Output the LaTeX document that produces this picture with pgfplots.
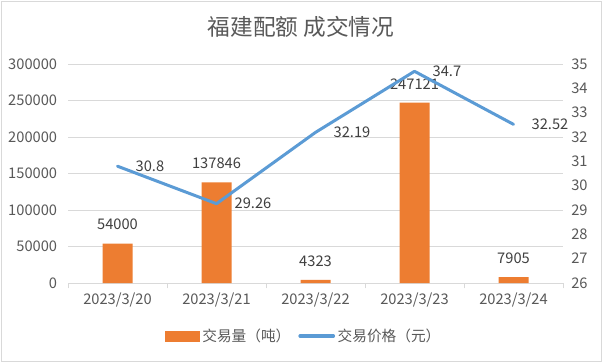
\documentclass[border=0pt]{standalone}
\usepackage{pgfplots}
\pgfplotsset{compat=1.18}
\usepackage{fontspec}
\setmainfont{Noto Sans CJK SC}
\definecolor{barorange}{HTML}{ED7D31}
\definecolor{lineblue}{HTML}{5B9BD5}
\definecolor{txt}{HTML}{595959}
\definecolor{lbl}{HTML}{404040}
\definecolor{gridc}{HTML}{D9D9D9}
\begin{document}
\begin{tikzpicture}
\useasboundingbox (0,0) rectangle (451.5pt,271.5pt);
\fill[white] (0,0) rectangle (451.5pt,271.5pt);
\draw[gridc, line width=0.75pt] (0.75pt,0.75pt) rectangle (450.75pt,270.75pt);
\node[text=txt, font=\fontsize{17}{20}\selectfont] at (225.75pt,251.25pt) {福建配额 成交情况};

\begin{axis}[
  at={(51pt,59.25pt)}, anchor=south west,
  scale only axis, width=371.25pt, height=164.25pt,
  xmin=-0.5, xmax=4.5, ymin=0, ymax=300000,
  xtick={0,1,2,3,4},
  xticklabels={2023/3/20,2023/3/21,2023/3/22,2023/3/23,2023/3/24},
  minor xtick={-0.5,0.5,1.5,2.5,3.5,4.5},
  ytick={0,50000,100000,150000,200000,250000,300000},
  major tick length=0pt, minor tick length=4pt, tick align=outside,
  axis x line*=bottom, axis y line*=left,
  x axis line style={draw=gridc, line width=0.75pt, -},
  y axis line style={draw=none},
  minor tick style={draw=gridc, line width=0.75pt},
  ymajorgrids, major grid style={draw=gridc, line width=0.75pt},
  scaled y ticks=false,
  /pgf/number format/fixed,
  /pgf/number format/precision=0,
  /pgf/number format/assume math mode=true,
  /pgf/number format/1000 sep={},
  tick label style={font=\fontsize{11}{13}\selectfont, text=txt},
  yticklabel style={anchor=east, inner sep=0pt, xshift=-8pt},
  xticklabel style={anchor=north, inner sep=0pt, yshift=-7.5pt},
  ybar, bar width=22.5pt,
  nodes near coords,
  every node near coord/.append style={font=\fontsize{11}{13}\selectfont, text=lbl, anchor=south, inner sep=0pt, yshift=10pt},
]
\addplot[fill=barorange, draw=none] coordinates {(0,54000) (1,137846) (2,4323) (3,247121) (4,7905)};
\end{axis}

\begin{axis}[
  at={(51pt,59.25pt)}, anchor=south west,
  scale only axis, width=371.25pt, height=164.25pt,
  xmin=-0.5, xmax=4.5, ymin=26, ymax=35,
  ytick={26,27,28,29,30,31,32,33,34,35},
  axis y line*=right, axis x line=none,
  y axis line style={draw=none},
  major tick length=0pt,
  /pgf/number format/fixed,
  /pgf/number format/precision=2,
  /pgf/number format/assume math mode=true,
  tick label style={font=\fontsize{11}{13}\selectfont, text=txt},
  yticklabel style={anchor=west, inner sep=0pt, xshift=6pt},
  nodes near coords,
  every node near coord/.append style={font=\fontsize{11}{13}\selectfont, text=lbl, anchor=west, inner sep=0pt, xshift=12.5pt},
  legend style={at={(0.477,-0.242)}, anchor=center, draw=none, fill=none,
    legend columns=2, font=\fontsize{11}{13}\selectfont, text=txt,
    /tikz/every even column/.append style={column sep=4pt}},
]
\addlegendimage{legend image code/.code={\fill[barorange] (0pt,-3.75pt) rectangle (25.5pt,3.75pt);}}
\addlegendentry{交易量（吨）}
\addplot[lineblue, line width=2.25pt, line join=round, line cap=round, mark=none,
  legend image code/.code={\draw[lineblue, line width=2.5pt, line cap=round] (1pt,0pt) -- (26pt,0pt);}]
  coordinates {(0,30.8) (1,29.26) (2,32.19) (3,34.7) (4,32.52)};
\addlegendentry{交易价格（元）}
\end{axis}
\end{tikzpicture}
\end{document}
